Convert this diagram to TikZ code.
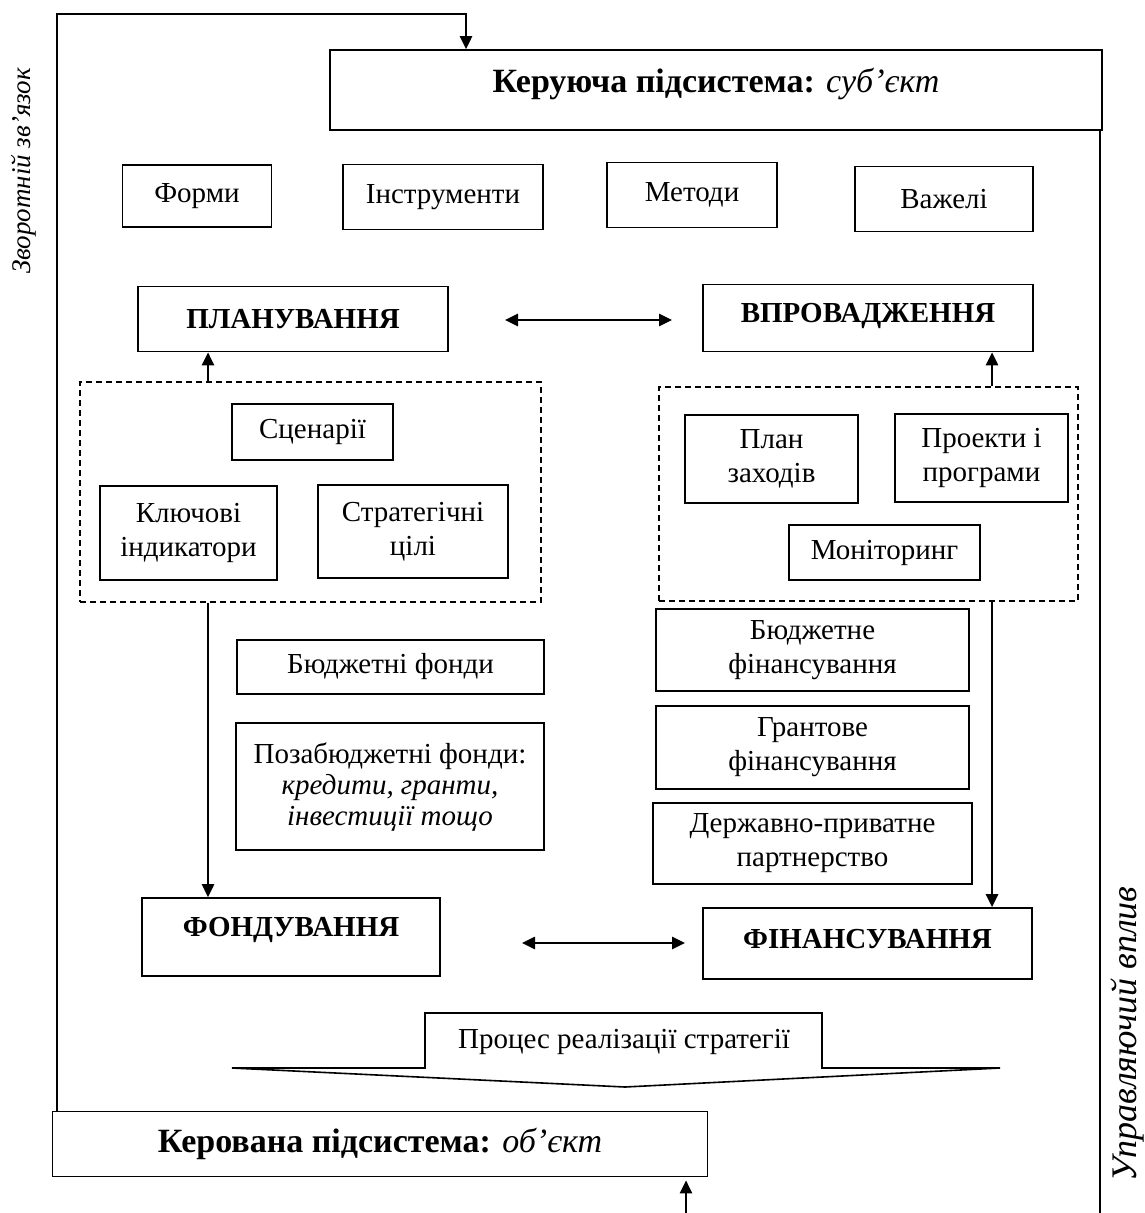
\documentclass[tikz,border=0pt]{standalone}
\usepackage{fontspec}
\setmainfont{Liberation Serif}
\usetikzlibrary{arrows.meta}
\tikzset{
  base/.style={font=\fontsize{29}{34}\selectfont},
  box/.style={base, draw, line width=1.6pt, align=center, inner sep=2pt},
  dbox/.style={draw, line width=1.5pt, dash pattern=on 6pt off 4pt},
  conn/.style={line width=2.6pt},
  tip/.style={-{Triangle[length=13pt,width=12pt]}},
  dtip/.style={{Triangle[length=13pt,width=12pt]}-{Triangle[length=13pt,width=12pt]}},
  side/.style={rotate=90, inner sep=0pt},
}
\begin{document}
\begin{tikzpicture}[x=1pt,y=-1pt]
\useasboundingbox (0,0) rectangle (1145,1213);
% main boxes
\node[box, minimum width=772pt, minimum height=80pt, font=\fontsize{34}{40}\selectfont, text depth=20pt] (sub) at (716,90) {\textbf{Керуюча підсистема:} \textit{суб’єкт}};
\node[box, minimum width=655pt, minimum height=65pt, font=\fontsize{34}{40}\selectfont] (obj) at (380,1144) {\textbf{Керована підсистема:} \textit{об’єкт}};
% row of four
\node[box, minimum width=149pt, minimum height=62pt] (forms) at (197,196) {Форми};
\node[box, minimum width=200pt, minimum height=65pt] (instr) at (443,197) {Інструменти};
\node[box, minimum width=170pt, minimum height=65pt] (meth) at (692,195) {Методи};
\node[box, minimum width=178pt, minimum height=65pt] (lev) at (944,199) {Важелі};
% planning / implementation
\node[box, minimum width=310pt, minimum height=65pt] (plan) at (293,319) {\textbf{ПЛАНУВАННЯ}};
\node[box, minimum width=330pt, minimum height=67pt, text depth=10pt] (impl) at (868,318) {\textbf{ВПРОВАДЖЕННЯ}};
% dashed groups
\node[dbox, minimum width=461pt, minimum height=220pt] (gl) at (310.5,492) {};
\node[dbox, minimum width=419pt, minimum height=214pt] (gr) at (868.5,494) {};
% inside left
\node[box, minimum width=161pt, minimum height=56pt] (scen) at (312.5,432) {Сценарії};
\node[box, minimum width=177pt, minimum height=94pt] (key) at (188.5,533) {Ключові\\індикатори};
\node[box, minimum width=190pt, minimum height=93pt] (goal) at (413,531.5) {Стратегічні\\цілі};
% inside right
\node[box, minimum width=173pt, minimum height=88pt] (pz) at (771.5,459) {План\\заходів};
\node[box, minimum width=173pt, minimum height=88pt] (pp) at (981.5,458) {Проекти і\\програми};
\node[box, minimum width=191pt, minimum height=55pt] (mon) at (884.5,552.5) {Моніторинг};
% funds
\node[box, minimum width=307pt, minimum height=54pt] (bf) at (390.5,667) {Бюджетні фонди};
\node[box, minimum width=308pt, minimum height=127pt, font=\fontsize{29}{31}\selectfont] (pbf) at (390,786.5) {Позабюджетні фонди:\\\textit{кредити, гранти,}\\\textit{інвестиції тощо}};
\node[box, minimum width=313pt, minimum height=82pt] (bfin) at (812.5,650) {Бюджетне\\фінансування};
\node[box, minimum width=313pt, minimum height=83pt] (gfin) at (812.5,747.5) {Грантове\\фінансування};
\node[box, minimum width=319pt, minimum height=81pt] (ppp) at (812.5,843.5) {Державно-приватне\\партнерство};
% bottom pair
\node[box, minimum width=298pt, minimum height=78pt, text depth=20pt] (fond) at (291,937) {\textbf{ФОНДУВАННЯ}};
\node[box, minimum width=329pt, minimum height=71pt, text depth=10pt] (fin) at (867.5,943.5) {\textbf{ФІНАНСУВАННЯ}};
% process arrow
\node[base] (proc) at (624,1042) {Процес реалізації стратегії};
\draw[line width=1.6pt] (232,1068) -- (425,1068) -- (425,1013) -- (822,1013) -- (822,1068) -- (1000,1068) -- (625,1087) -- cycle;
% side labels
\node[side, font=\fontsize{27}{30}\selectfont\itshape] (fb) at (24,171) {Зворотній зв’язок};
\node[side, font=\fontsize{36}{40}\selectfont\itshape] (ctrl) at (1128,1034) {Управляючий вплив};
% connectors
\draw[conn, dtip] (505,320) -- (672,320);
\draw[conn, dtip] (522,943) -- (685,943);
\coordinate (lx) at (208,0);
\coordinate (rx) at (992,0);
\draw[conn, tip] (gl.north -| lx) -- (plan.south -| lx);
\draw[conn, tip] (gr.north -| rx) -- (impl.south -| rx);
\draw[conn, tip] (gl.south -| lx) -- (fond.north -| lx);
\draw[conn, tip] (gr.south -| rx) -- (fin.north -| rx);
% feedback loop
\coordinate (fbL) at (57,14);
\coordinate (fbR) at (466,14);
\draw[conn, tip] (obj.north -| fbL) -- (fbL) -- (fbR) -- (fbR |- sub.north);
\coordinate (rb) at (1100,1213);
\draw[conn] (sub.south -| rb) -- (rb);
\coordinate (bb) at (686,1213);
\draw[conn, tip, shorten >=3pt] (bb) -- (bb |- obj.south);
\end{tikzpicture}
\end{document}
